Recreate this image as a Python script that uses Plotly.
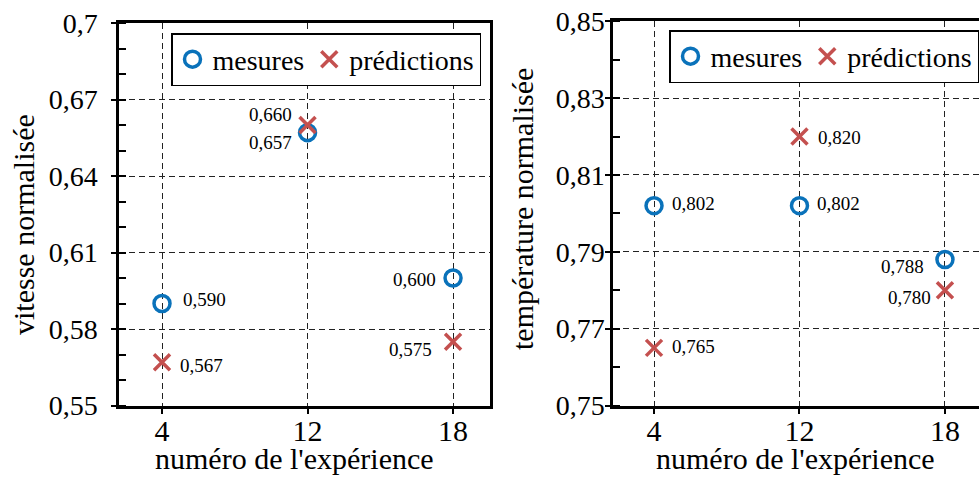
import plotly.graph_objects as go

# Experiment numbers (categorical x axis)
experiences = ["4", "12", "18"]

# Normalised speed
vitesse_mesures = [0.590, 0.657, 0.600]
vitesse_predictions = [0.567, 0.660, 0.575]

# Normalised temperature
temperature_mesures = [0.802, 0.802, 0.788]
temperature_predictions = [0.765, 0.820, 0.780]

# Tick labels (French decimal comma)
vitesse_ticks = [0.55, 0.58, 0.61, 0.64, 0.67, 0.70]
vitesse_ticktext = ["0,55", "0,58", "0,61", "0,64", "0,67", "0,7"]
temperature_ticks = [0.75, 0.77, 0.79, 0.81, 0.83, 0.85]
temperature_ticktext = ["0,75", "0,77", "0,79", "0,81", "0,83", "0,85"]

W, H = 979, 479
FONT = "Liberation Serif"
BLUE = "#0A72BA"
RED = "#C4504F"


def fmt(v):
    return f"{v:.3f}".replace(".", ",")


fig = go.Figure()

circle = dict(symbol="circle-open", size=16, color=BLUE, line=dict(width=3.5, color=BLUE))
cross = dict(symbol="x-thin-open", size=16, color=RED, line=dict(width=3.5, color=RED))

fig.add_trace(go.Scatter(x=experiences, y=vitesse_mesures, mode="markers", name="mesures",
                         marker=circle, xaxis="x", yaxis="y", legend="legend"))
fig.add_trace(go.Scatter(x=experiences, y=vitesse_predictions, mode="markers", name="prédictions",
                         marker=cross, xaxis="x", yaxis="y", legend="legend"))
fig.add_trace(go.Scatter(x=experiences, y=temperature_mesures, mode="markers", name="mesures",
                         marker=circle, xaxis="x2", yaxis="y2", legend="legend2"))
fig.add_trace(go.Scatter(x=experiences, y=temperature_predictions, mode="markers", name="prédictions",
                         marker=cross, xaxis="x2", yaxis="y2", legend="legend2"))

# Value labels: (anchor, xshift, yshift) for each point
vitesse_mes_pos = [("left", 19, 4), ("right", -14, -10), ("right", -15, -1)]
vitesse_pred_pos = [("left", 16, -3), ("right", -14, 10), ("right", -19, -8)]
temp_mes_pos = [("left", 16, 2), ("left", 16, 2), ("right", -19, -7)]
temp_pred_pos = [("left", 16, 1), ("left", 17, -1), ("right", -12, -7)]

annotations = []
for xr, yr, vals, pos in [("x", "y", vitesse_mesures, vitesse_mes_pos),
                          ("x", "y", vitesse_predictions, vitesse_pred_pos),
                          ("x2", "y2", temperature_mesures, temp_mes_pos),
                          ("x2", "y2", temperature_predictions, temp_pred_pos)]:
    # category axes place annotations by category index
    for i, (v, (anc, dx, dy)) in enumerate(zip(vals, pos)):
        annotations.append(dict(x=i, y=v, xref=xr, yref=yr, text=fmt(v), showarrow=False,
                                xanchor=anc, yanchor="middle", xshift=dx, yshift=dy,
                                font=dict(family=FONT, size=19, color="black")))

# Axis titles
titles = [
    ("numéro de l'expérience", 294 / W, (H - 458) / H, 0),
    ("numéro de l'expérience", 795.5 / W, (H - 458) / H, 0),
    ("vitesse normalisée", 23 / W, (H - 225) / H, -90),
    ("température normalisée", 523 / W, (H - 209) / H, -90),
]
for txt, x, y, ang in titles:
    annotations.append(dict(x=x, y=y, xref="paper", yref="paper", text=txt, showarrow=False,
                            xanchor="center", yanchor="middle", textangle=ang,
                            font=dict(family=FONT, size=30, color="black")))

grid = dict(showgrid=True, gridcolor="#222", gridwidth=1, griddash="6px,4px")
line = dict(showline=True, linecolor="black", linewidth=2.5, zeroline=False)

xcommon = dict(type="category", ticks="outside", ticklen=6, tickwidth=2, tickcolor="black",
               ticklabelstandoff=-9,
               tickfont=dict(family=FONT, size=30, color="black"), **grid, **line)

y_bottom = (H - 405.5) / H

fig.update_layout(
    width=W, height=H,
    margin=dict(l=0, r=0, t=0, b=0, autoexpand=False),
    paper_bgcolor="white", plot_bgcolor="white",
    showlegend=True,
    xaxis=dict(domain=[119 / W, 490 / W], range=[-0.2955, 2.254], anchor="y", mirror=True, **xcommon),
    xaxis2=dict(domain=[613 / W, 1.0], range=[-0.282, 2.234], anchor="y2", mirror=True, **xcommon),
    yaxis=dict(domain=[y_bottom, (H - 23) / H], range=[0.55, 0.70], anchor="x", mirror=True,
               tickvals=vitesse_ticks, ticktext=vitesse_ticktext,
               ticks="outside", ticklen=5, tickwidth=2, tickcolor="black", ticklabelstandoff=8,
               minor=dict(dtick=0.01, tick0=0.55, ticks="inside", ticklen=7, tickwidth=1.5,
                          tickcolor="black", showgrid=False),
               tickfont=dict(family=FONT, size=28, color="black"), **grid, **line),
    yaxis2=dict(domain=[y_bottom, (H - 21.3) / H], range=[0.75, 0.85], anchor="x2", mirror=False,
                tickvals=temperature_ticks, ticktext=temperature_ticktext,
                ticks="outside", ticklen=5, tickwidth=2, tickcolor="black", ticklabelstandoff=-5,
                minor=dict(dtick=0.01, tick0=0.75, ticks="inside", ticklen=7, tickwidth=1.5,
                           tickcolor="black", showgrid=False),
                tickfont=dict(family=FONT, size=28, color="black"), **grid, **line),
    legend=dict(x=171 / W, y=(H - 33) / H, xanchor="left", yanchor="top", orientation="h",
                bgcolor="white", bordercolor="black", borderwidth=1.5,
                font=dict(family=FONT, size=28, color="black")),
    legend2=dict(x=669 / W, y=(H - 30) / H, xanchor="left", yanchor="top", orientation="h",
                 bgcolor="white", bordercolor="black", borderwidth=1.5,
                 font=dict(family=FONT, size=28, color="black")),
    annotations=annotations,
)

fig.write_html("out.html")
